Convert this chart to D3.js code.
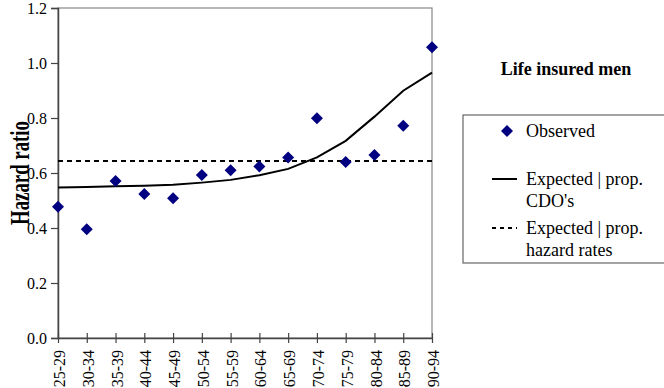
<!DOCTYPE html>
<html><head><meta charset="utf-8">
<script src="https://cdn.jsdelivr.net/npm/d3@7"></script>
<style>body{margin:0;background:#fff}svg{display:block}text{font-family:"Liberation Serif","Times New Roman",serif}</style>
</head><body><div id="chart"></div>
<script>
const categories = ["25-29","30-34","35-39","40-44","45-49","50-54","55-59","60-64","65-69","70-74","75-79","80-84","85-89","90-94"];
const observed = [0.477,0.395,0.571,0.524,0.508,0.593,0.610,0.624,0.656,0.799,0.640,0.665,0.772,1.057];
const expectedCDO = [0.547,0.549,0.552,0.554,0.557,0.565,0.575,0.592,0.615,0.657,0.717,0.805,0.899,0.965];
const expectedHazard = [0.644,0.644,0.644,0.644,0.644,0.644,0.644,0.644,0.644,0.644,0.644,0.644,0.644,0.644];
const yTicks = [0.0,0.2,0.4,0.6,0.8,1.0,1.2];
const title = "Life insured men";
const yLabel = "Hazard ratio";
const legendLabels = [["Observed"],["Expected | prop.","CDO's"],["Expected | prop.","hazard rates"]];

const W=664,H=388;
const svg=d3.select("#chart").append("svg").attr("width",W).attr("height",H);
const pL=58,pR=432,pT=8,pB=338;
const x=d3.scalePoint().domain(categories).range([pL,pR]).padding(0);
const y=d3.scaleLinear().domain([0,1.2]).range([pB,pT]);

// plot area border
svg.append("rect").attr("x",pL).attr("y",pT).attr("width",pR-pL).attr("height",pB-pT)
  .attr("fill","none").attr("stroke","#888").attr("stroke-width",1.2);

// y label (condensed tall bold text, as in the reference) - drawn under the tick labels
const yl=svg.append("text").attr("font-size",28).attr("font-weight","bold").attr("text-anchor","start").text(yLabel);
const len=yl.node().getComputedTextLength();
const targetLen=104;
yl.attr("transform",`translate(29,225) rotate(-90) scale(${targetLen/len},1)`);

// y axis
const yAxis=svg.append("g").attr("transform",`translate(${pL},0)`)
  .call(d3.axisLeft(y).tickValues(yTicks).tickFormat(d3.format(".1f")).tickSize(7).tickPadding(4));
yAxis.attr("font-family",null);
yAxis.select(".domain").attr("stroke","#444").attr("stroke-width",1.5);
yAxis.selectAll(".tick line").attr("stroke","#444").attr("stroke-width",1.2);
yAxis.selectAll("text").attr("font-size",16).attr("fill","#000");

// x axis
const xAxis=svg.append("g").attr("transform",`translate(0,${pB})`)
  .call(d3.axisBottom(x).tickSizeInner(5).tickSizeOuter(0).tickPadding(0));
xAxis.attr("font-family",null);
xAxis.select(".domain").attr("stroke","#444").attr("stroke-width",1.5);
xAxis.selectAll(".tick line").attr("stroke","#444").attr("stroke-width",1.2).attr("y1",-5).attr("y2",5);
xAxis.selectAll("text").attr("font-size",16).attr("fill","#000")
  .attr("transform","rotate(-90)").attr("text-anchor","end").attr("x",-12).attr("y",1).attr("dy","0.35em");

// dashed line
svg.append("path").datum(expectedHazard)
  .attr("d",d3.line().x((d,i)=>x(categories[i])).y(d=>y(d)))
  .attr("fill","none").attr("stroke","#000").attr("stroke-width",2).attr("stroke-dasharray","5,4");

// solid line
svg.append("path").datum(expectedCDO)
  .attr("d",d3.line().x((d,i)=>x(categories[i])).y(d=>y(d)))
  .attr("fill","none").attr("stroke","#000").attr("stroke-width",2);

// observed diamonds
const diamond=d3.symbol().type(d3.symbolSquare).size(72);
svg.append("g").selectAll("path").data(observed).join("path")
  .attr("d",diamond())
  .attr("transform",(d,i)=>`translate(${x(categories[i])},${y(d)}) rotate(45)`)
  .attr("fill","#000080");

// title
svg.append("text").attr("x",566).attr("y",69).attr("text-anchor","middle").attr("dominant-baseline","central")
  .attr("font-size",18).attr("font-weight","bold").text(title);

// legend
const lg=svg.append("g");
lg.append("rect").attr("x",463).attr("y",115).attr("width",220).attr("height",148)
  .attr("fill","#fff").attr("stroke","#666").attr("stroke-width",1.2);
lg.append("path").attr("d",diamond()).attr("transform","translate(507,131) rotate(45)").attr("fill","#000080");
lg.append("line").attr("x1",492).attr("x2",517).attr("y1",179).attr("y2",179).attr("stroke","#000").attr("stroke-width",2);
lg.append("line").attr("x1",492).attr("x2",517).attr("y1",228).attr("y2",228).attr("stroke","#000").attr("stroke-width",2).attr("stroke-dasharray","4,4");
const rows=[[131],[179,201],[228,250]];
legendLabels.forEach((lines,k)=>{
  lines.forEach((t,j)=>{
    lg.append("text").attr("x",526).attr("y",rows[k][j]).attr("dominant-baseline","central")
      .attr("font-size",18).text(t);
  });
});
</script></body></html>
